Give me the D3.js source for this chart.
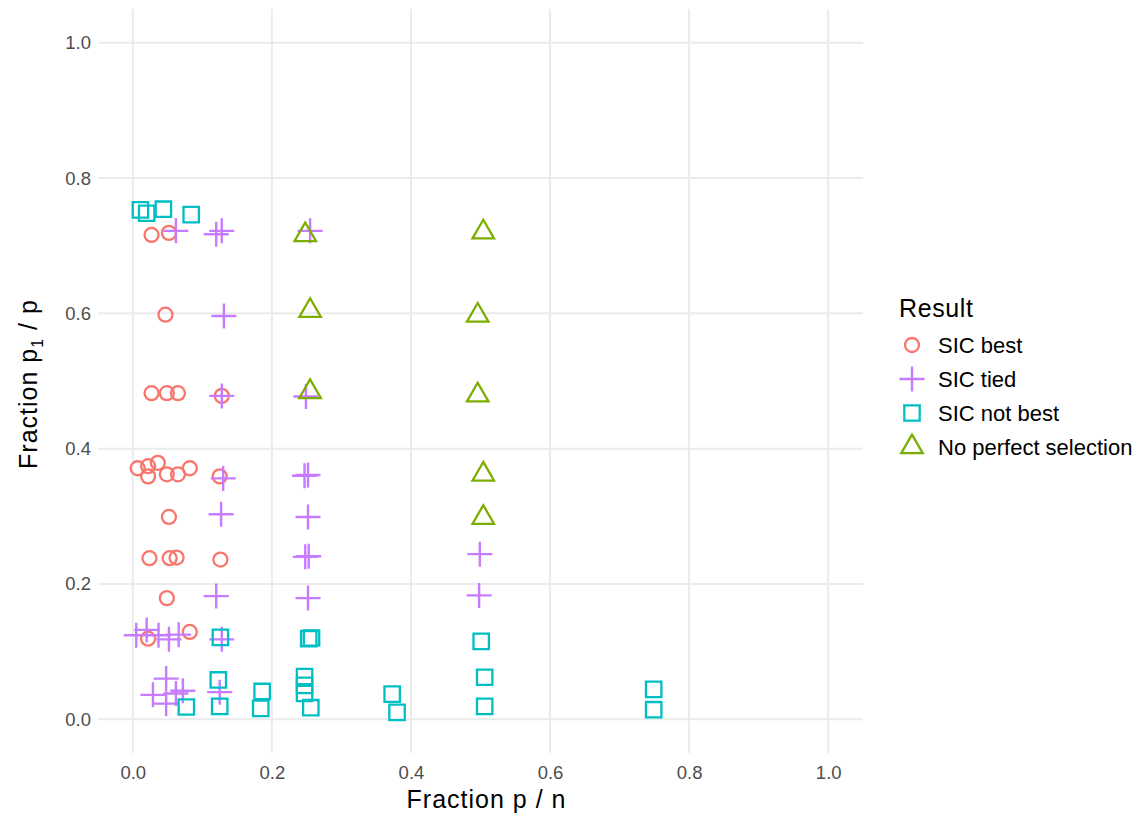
<!DOCTYPE html>
<html>
<head>
<meta charset="utf-8">
<script src="https://d3js.org/d3.v7.min.js"></script>
<style>
	body { margin: 0; background: #fff; }
	text { font-family: "Liberation Sans", Arial, sans-serif; }
</style>
</head>
<body>
<div id="chart"></div>
<script type="text/javascript">
	// values, [fraction p/n, fraction p1/p]
	var sicBest = [[0.027,0.716],[0.052,0.719],[0.047,0.598],
		[0.027,0.482],[0.049,0.482],[0.065,0.482],[0.128,0.478],
		[0.007,0.371],[0.022,0.374],[0.036,0.379],[0.022,0.359],[0.049,0.362],[0.065,0.362],[0.082,0.371],[0.125,0.359],
		[0.052,0.299],
		[0.024,0.238],[0.053,0.238],[0.063,0.239],[0.126,0.236],
		[0.049,0.179],
		[0.022,0.119],[0.082,0.129]];
	var sicTied = [[0.062,0.722],[0.120,0.717],[0.128,0.722],[0.255,0.722],
		[0.131,0.596],
		[0.128,0.478],[0.249,0.477],
		[0.130,0.356],[0.247,0.360],[0.252,0.361],
		[0.127,0.303],[0.252,0.299],
		[0.248,0.240],[0.253,0.241],[0.499,0.244],
		[0.120,0.182],[0.252,0.179],[0.498,0.183],
		[0.005,0.124],[0.020,0.132],[0.037,0.124],[0.052,0.118],[0.066,0.125],[0.128,0.118],
		[0.048,0.060],[0.029,0.036],[0.048,0.023],[0.062,0.038],[0.072,0.042],[0.125,0.040]];
	var sicNotBest = [[0.011,0.753],[0.020,0.748],[0.044,0.754],[0.084,0.746],
		[0.126,0.121],[0.253,0.119],[0.257,0.120],[0.501,0.115],
		[0.123,0.058],[0.125,0.019],[0.077,0.018],[0.186,0.041],[0.184,0.016],
		[0.247,0.063],[0.247,0.050],[0.247,0.038],[0.256,0.017],
		[0.373,0.037],[0.380,0.010],[0.506,0.062],[0.506,0.019],[0.749,0.044],[0.749,0.014]];
	var noPerfect = [[0.248,0.716],[0.504,0.720],[0.255,0.604],[0.496,0.597],
		[0.255,0.484],[0.496,0.479],[0.504,0.362],[0.504,0.298]];

	var seriesNames = ["SIC best", "SIC tied", "SIC not best", "No perfect selection"];
	var seriesColors = ["#F8766D", "#C77CFF", "#00BFC4", "#7CAE00"];
	var seriesShapes = ["circle", "plus", "square", "triangle"];
	var tickVals = [0, 0.2, 0.4, 0.6, 0.8, 1.0];

	var w = 1141, h = 820;
	var pLeft = 98, pRight = 863, pTop = 9, pBottom = 753;

	var svg = d3.select("#chart").append("svg")
		.attr("width", w)
		.attr("height", h);

	var x = d3.scaleLinear().domain([-0.05, 1.05]).range([pLeft, pRight]);
	var y = d3.scaleLinear().domain([-0.05, 1.05]).range([pBottom, pTop]);

	// grid
	svg.append("g").selectAll("line").data(tickVals).enter().append("line")
		.attr("x1", function(d){ return x(d); })
		.attr("x2", function(d){ return x(d); })
		.attr("y1", pTop).attr("y2", pBottom)
		.attr("stroke", "#EBEBEB").attr("stroke-width", 2);
	svg.append("g").selectAll("line").data(tickVals).enter().append("line")
		.attr("y1", function(d){ return y(d); })
		.attr("y2", function(d){ return y(d); })
		.attr("x1", pLeft).attr("x2", pRight)
		.attr("stroke", "#EBEBEB").attr("stroke-width", 2);

	svg.append("g")
		.attr("transform", "translate(0," + pBottom + ")")
		.call(d3.axisBottom(x).tickValues(tickVals).tickFormat(d3.format(".1f")).tickSize(0).tickPadding(13));
	svg.append("g")
		.attr("transform", "translate(" + pLeft + ",0)")
		.call(d3.axisLeft(y).tickValues(tickVals).tickFormat(d3.format(".1f")).tickSize(0).tickPadding(7));
	svg.selectAll(".domain").remove();
	svg.selectAll(".tick text")
		.attr("font-family", "Liberation Sans, Arial, sans-serif")
		.attr("font-size", 18.5)
		.attr("fill", "#4D4D4D");

	// axis titles
	svg.append("text")
		.attr("x", (pLeft + pRight) / 2 + 6)
		.attr("y", 808)
		.attr("text-anchor", "middle")
		.attr("font-size", 25)
		.attr("letter-spacing", 1)
		.text("Fraction p / n");

	var ytitle = svg.append("text")
		.attr("transform", "translate(37," + ((pTop + pBottom) / 2 + 3) + ") rotate(-90)")
		.attr("text-anchor", "middle")
		.attr("font-size", 25)
		.attr("letter-spacing", 1);
	ytitle.append("tspan").text("Fraction p");
	ytitle.append("tspan").attr("font-size", 16).attr("dy", 6).text("1");
	ytitle.append("tspan").attr("dy", -6).text(" / p");

	function shapePath(shape) {
		var p = d3.path();
		if (shape == "circle") {
			p.moveTo(7, 0);
			p.arc(0, 0, 7, 0, 2 * Math.PI);
		} else if (shape == "plus") {
			p.moveTo(-12.5, 0); p.lineTo(12.5, 0);
			p.moveTo(0, -12.5); p.lineTo(0, 12.5);
		} else if (shape == "square") {
			p.rect(-7.7, -7.7, 15.4, 15.4);
		} else {
			var s = 21.5, th = s * Math.sqrt(3) / 2;
			p.moveTo(0, -2 * th / 3);
			p.lineTo(s / 2, th / 3);
			p.lineTo(-s / 2, th / 3);
			p.closePath();
		}
		return p.toString();
	}

	var allSeries = [sicBest, sicTied, sicNotBest, noPerfect];
	allSeries.forEach(function(data, i) {
		svg.append("g").selectAll("path").data(data).enter().append("path")
			.attr("transform", function(d){ return "translate(" + x(d[0]) + "," + y(d[1]) + ")"; })
			.attr("d", shapePath(seriesShapes[i]))
			.attr("fill", "none")
			.attr("stroke", seriesColors[i])
			.attr("stroke-width", seriesShapes[i] == "plus" ? 2.4 : 2.3);
	});

	// legend
	var legend = svg.append("g");
	legend.append("text")
		.attr("x", 899)
		.attr("y", 317)
		.attr("font-size", 25)
		.attr("letter-spacing", 0.6)
		.text("Result");
	seriesNames.forEach(function(name, i) {
		var cy = 345 + i * 34;
		legend.append("path")
			.attr("transform", "translate(912," + cy + ")")
			.attr("d", shapePath(seriesShapes[i]))
			.attr("fill", "none")
			.attr("stroke", seriesColors[i])
			.attr("stroke-width", seriesShapes[i] == "plus" ? 2.4 : 2.3);
		legend.append("text")
			.attr("x", 938)
			.attr("y", cy)
			.attr("dy", "0.36em")
			.attr("font-size", 22)
			.text(name);
	});
</script>
</body>
</html>
